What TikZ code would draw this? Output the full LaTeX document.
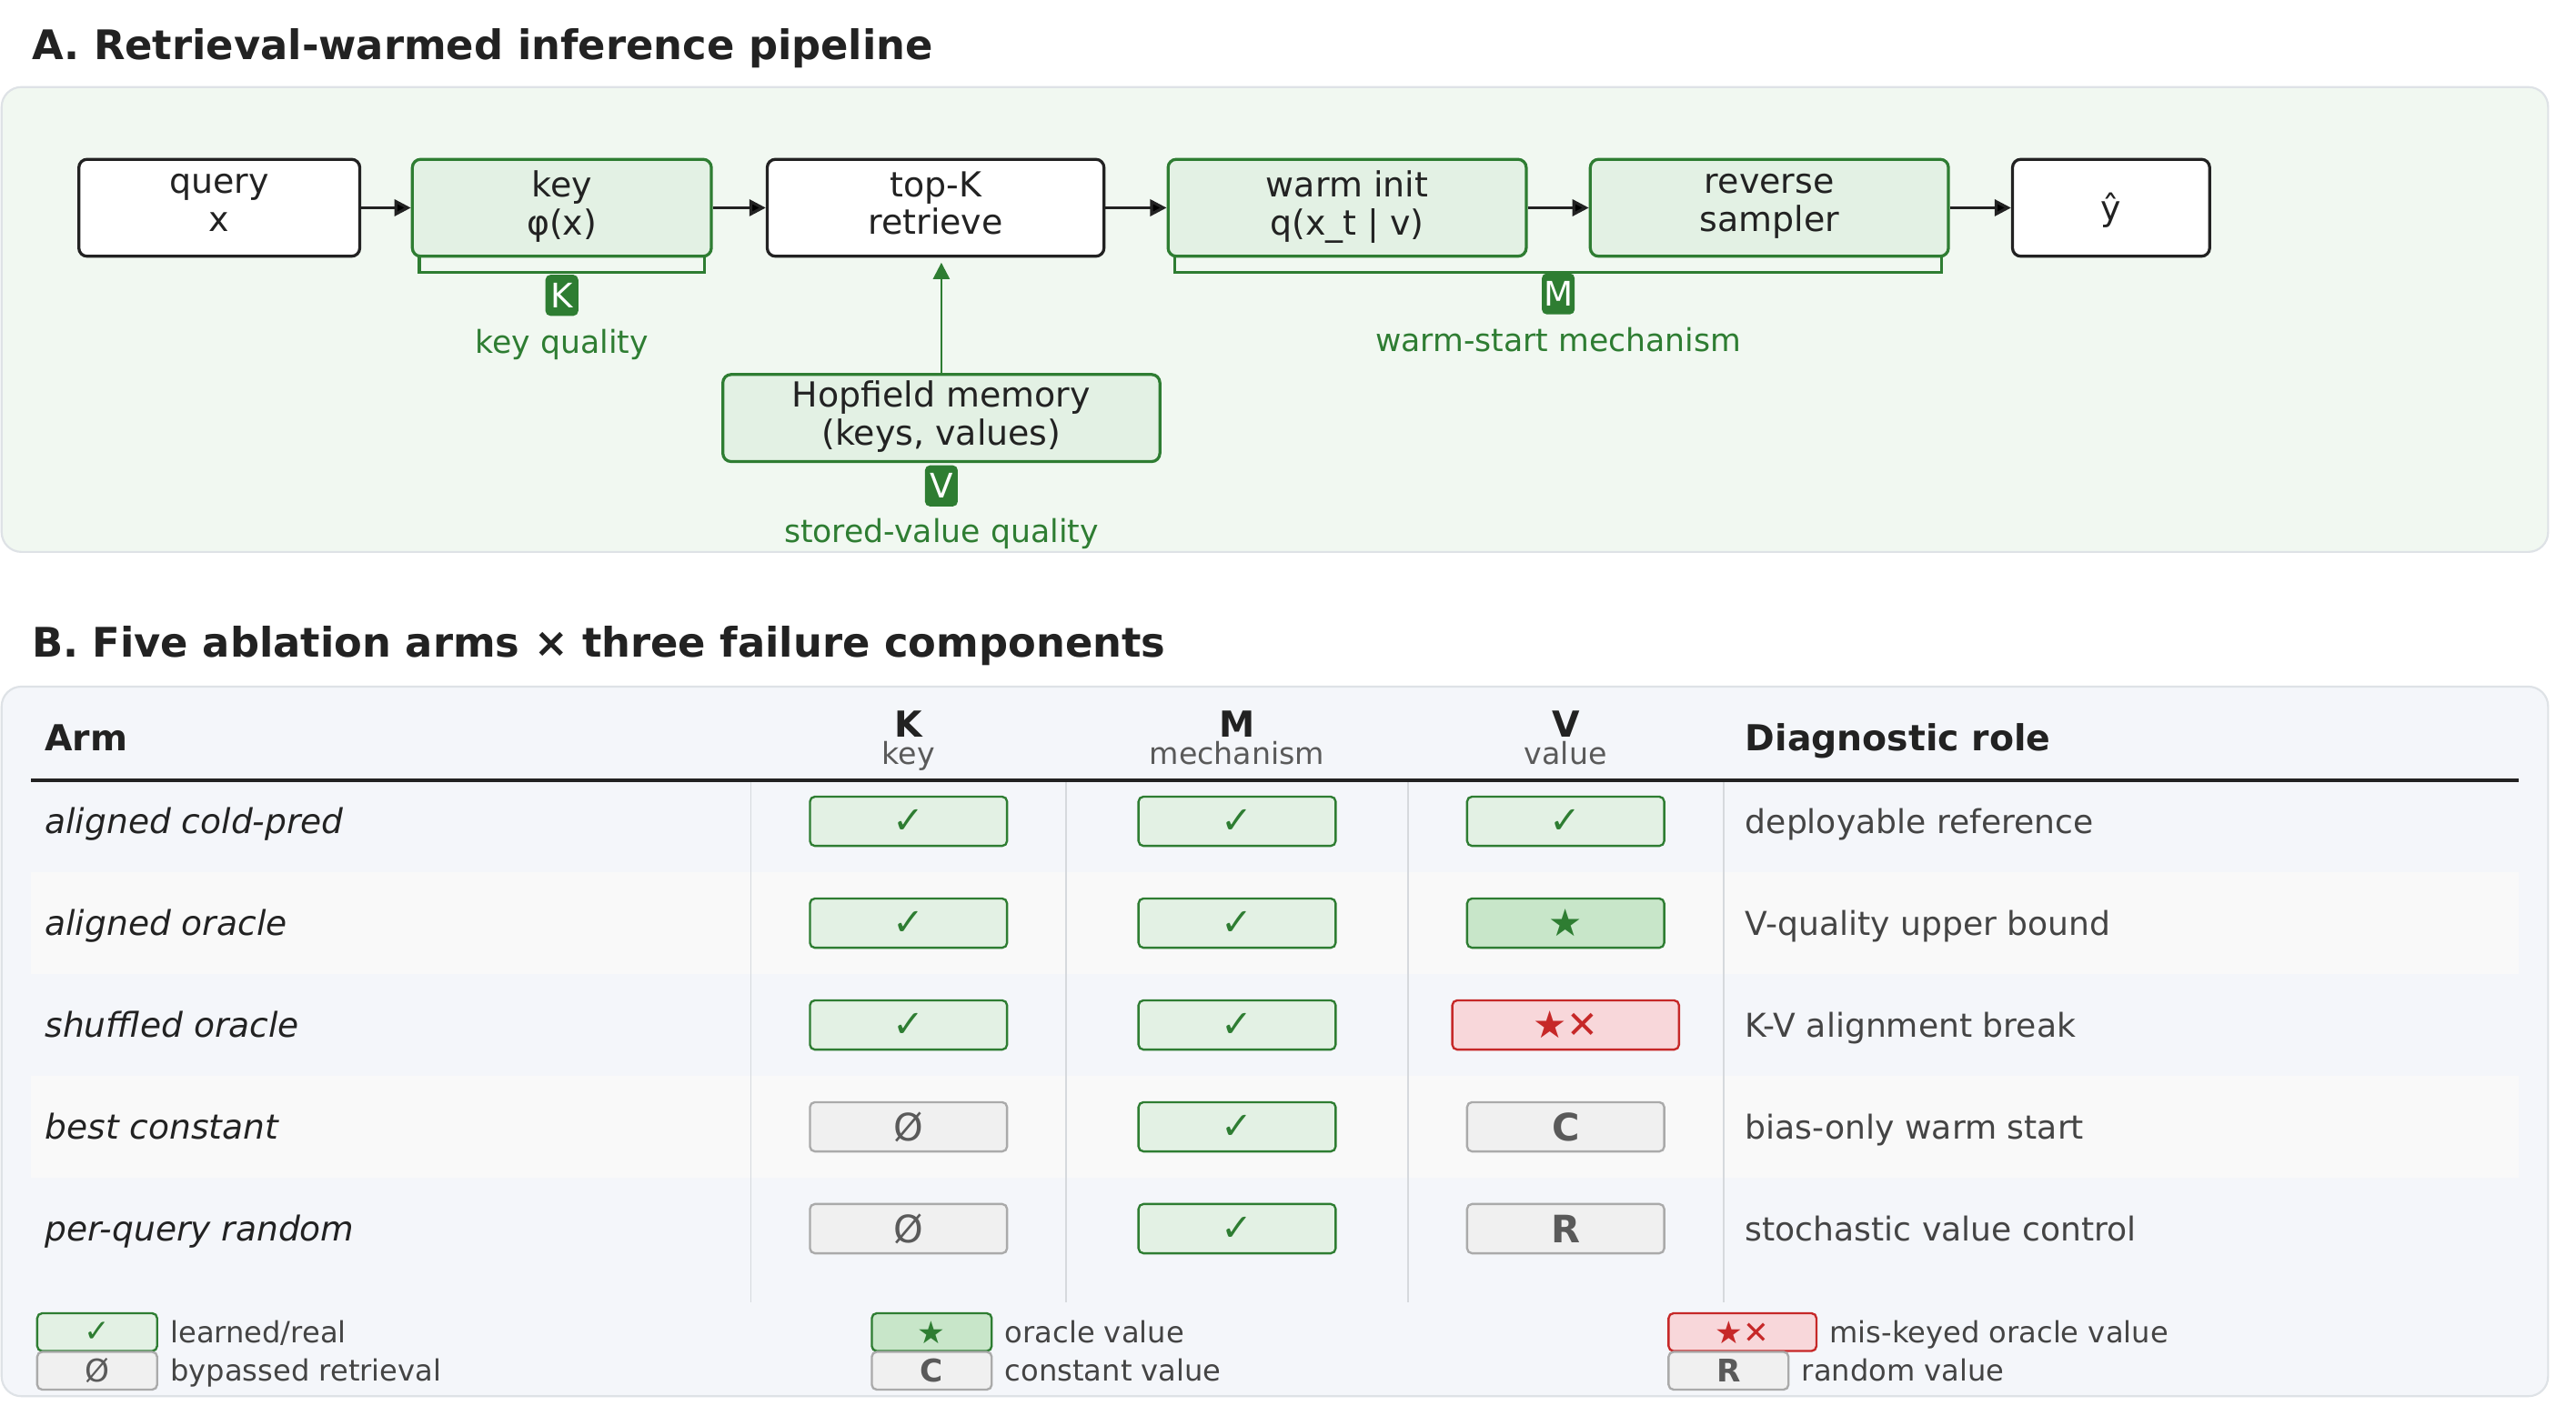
\documentclass[tikz,border=0pt]{standalone}
\usepackage{fontspec}
\setmainfont{DejaVu Sans}
\usetikzlibrary{arrows.meta,positioning}
\definecolor{ink}{HTML}{222222}
\definecolor{dgreen}{HTML}{2E7D32}
\definecolor{lgreen}{HTML}{E3F1E4}
\definecolor{mgreen}{HTML}{C8E6C9}
\definecolor{panela}{HTML}{F1F8F1}
\definecolor{panelb}{HTML}{F4F6FA}
\definecolor{panelline}{HTML}{DEE2E6}
\definecolor{dred}{HTML}{C62828}
\definecolor{lred}{HTML}{F8D7DA}
\definecolor{lgray}{HTML}{F0F0F0}
\definecolor{mgray}{HTML}{AAAAAA}
\definecolor{tgray}{HTML}{5A5A5A}
\definecolor{rolegray}{HTML}{444444}
\definecolor{sepgray}{HTML}{D6D9DD}
\definecolor{stripe}{HTML}{F9F9F9}
\begin{document}
\begin{tikzpicture}[x=0.5pt,y=-0.5pt,
  main node/.style={draw=ink,fill=white,line width=0.9pt,rounded corners=2.5pt,align=center,inner sep=0pt,minimum height=29.5pt,text=ink,font=\fontsize{10.5}{11.5}\selectfont,execute at begin node=\rule{0pt}{10.5pt},execute at end node=\rule[-3pt]{0pt}{3pt}},
  green node/.style={main node,draw=dgreen,fill=lgreen},
  badge/.style={fill=dgreen,rounded corners=1.5pt,text=white,inner sep=0pt,minimum width=10pt,minimum height=12.5pt,font=\fontsize{10.3}{12}\selectfont},
  note/.style={inner sep=0pt,text=dgreen,text height=7pt,text depth=0pt,font=\fontsize{9.6}{11}\selectfont},
  bracket/.style={draw=dgreen,line width=1pt},
  flow/.style={draw=ink,line width=0.9pt,-{Triangle[length=5pt,width=5pt]}},
  title/.style={anchor=west,inner sep=0pt,text=ink,text height=9pt,text depth=0pt,font=\fontsize{12.4}{14}\selectfont\bfseries},
  head/.style={inner sep=0pt,text=ink,text height=8pt,text depth=0pt,font=\fontsize{10.9}{13}\selectfont\bfseries},
  sub/.style={inner sep=0pt,text=tgray,text height=6.7pt,text depth=0pt,font=\fontsize{9.2}{11}\selectfont},
  arm/.style={anchor=west,inner sep=0pt,text=ink,text height=7.6pt,text depth=0pt,font=\fontsize{10.4}{12}\selectfont\itshape},
  role/.style={anchor=west,inner sep=0pt,text=rolegray,text height=7.3pt,text depth=0pt,font=\fontsize{10}{12}\selectfont},
  cell/.style={draw,line width=0.65pt,rounded corners=1.5pt,inner sep=0pt,minimum width=60pt,minimum height=15pt,font=\fontsize{11.5}{12}\selectfont},
  okcell/.style={cell,draw=dgreen,fill=lgreen,text=dgreen},
  orcell/.style={cell,draw=dgreen,fill=mgreen,text=dgreen},
  miscell/.style={cell,draw=dred,fill=lred,text=dred,minimum width=69pt},
  nullcell/.style={cell,draw=mgray,fill=lgray,text=tgray},
  legbox/.style={anchor=west,minimum height=11.5pt,font=\fontsize{9.5}{10}\selectfont},
  legtext/.style={inner sep=0pt,text=rolegray,text height=6.5pt,text depth=0pt,font=\fontsize{8.9}{10}\selectfont}]
\useasboundingbox[fill=white] (0,0) rectangle (1568,868);
\draw[panelline,fill=panela,line width=0.6pt,rounded corners=6pt] (1,53) rectangle (1551,336);
\draw[panelline,fill=panelb,line width=0.6pt,rounded corners=6pt] (1,418) rectangle (1551,850);
\fill[stripe] (19,531) rectangle (1533,593);
\fill[stripe] (19,655) rectangle (1533,717);
\foreach \x in {457,649,857,1049}
  \draw[sepgray,line width=0.5pt] (\x,476) -- (\x,793);
\draw[ink,line width=1pt] (19,475) -- (1533,475);

\node[title] (0) at (19,27) {A. Retrieval-warmed inference pipeline};
\node[main node,minimum width=85.5pt] (1) at (133.5,126.5) {query\\x};
\node[green node,minimum width=91pt] (2) [right=15.1pt of 1] {key\\φ(x)};
\node[main node,minimum width=102.5pt] (3) [right=16.1pt of 2] {top-K\\retrieve};
\node[green node,minimum width=109pt] (4) [right=18.6pt of 3] {warm init\\q(x\_t | v)};
\node[green node,minimum width=109pt] (5) [right=18.6pt of 4] {reverse\\sampler};
\node[main node,minimum width=60pt] (6) [right=18.6pt of 5] {ŷ};
\node[green node,minimum width=133pt,minimum height=26.5pt] (7) [below=35.1pt of 3,xshift=1.75pt] {Hopfield memory\\(keys, values)};

\path[flow]
    (1) edge (2)
    (2) edge (3)
    (3) edge (4)
    (4) edge (5)
    (5) edge (6)
    (7) edge[draw=dgreen,line width=0.7pt,shorten >=1.5pt] (7.north |- 3.south);

\draw[bracket] ([xshift=2.5pt]2.south west) -- ++(0,9) -| ([xshift=-2.5pt]2.south east);
\draw[bracket] ([xshift=2.5pt]4.south west) -- ++(0,9) -| ([xshift=-2.5pt]5.south east);
\node[badge,below=5pt of 2] (8) {K};
\node[note,below=4pt of 8] (9) {key quality};
\node[badge,anchor=north] (10) at (948.5,166) {M};
\node[note,below=4pt of 10] (11) {warm-start mechanism};
\node[badge,below=0.5pt of 7] (12) {V};
\node[note,below=3.6pt of 12] (13) {stored-value quality};

\node[title] (14) at (19,391) {B. Five ablation arms × three failure components};
\node[head,anchor=west] (h0) at (27,449) {Arm};
\node[head,anchor=west] (h4) at (1062,449) {Diagnostic role};
\foreach \x/\a/\b [count=\i] in {553/K/key,753/M/mechanism,953/V/value} {
  \node[head] (h\i) at (\x,441) {\a};
  \node[sub,below=1.2pt of h\i] (s\i) {\b};
}
\foreach \y/\arm/\role [count=\r] in {500/aligned cold-pred/deployable reference,562/aligned oracle/V-quality upper bound,624/shuffled oracle/K-V alignment break,686/best constant/bias-only warm start,748/per-query random/stochastic value control} {
  \node[arm] (a\r) at (27,\y) {\arm};
  \node[role] (d\r) at (1062,\y) {\role};
}
\foreach \y/\ks/\kt/\vs/\vt [count=\r] in {500/okcell/✓/okcell/✓,562/okcell/✓/orcell/★,624/okcell/✓/miscell/{★✕},686/nullcell/Ø/nullcell/{\bfseries C},748/nullcell/Ø/nullcell/{\bfseries R}} {
  \node[\ks] (k\r) at (553,\y) {\kt};
  \node[okcell] (m\r) at (753,\y) {✓};
  \node[\vs] (v\r) at (953,\y) {\vt};
}

\foreach \x/\y/\s/\w/\g/\t [count=\i] in {22/811/okcell/36.5pt/✓/{learned/real},22/834.5/nullcell/36.5pt/Ø/{bypassed retrieval},530/811/orcell/36.5pt/★/{oracle value},530/834.5/nullcell/36.5pt/{\bfseries C}/{constant value},1015/811/miscell/45pt/{★✕}/{mis-keyed oracle value},1015/834.5/nullcell/36.5pt/{\bfseries R}/{random value}} {
  \node[\s,legbox,minimum width=\w] (l\i) at (\x,\y) {\g};
  \node[legtext,right=3.5pt of l\i] (t\i) {\t};
}
\end{tikzpicture}
\end{document}
